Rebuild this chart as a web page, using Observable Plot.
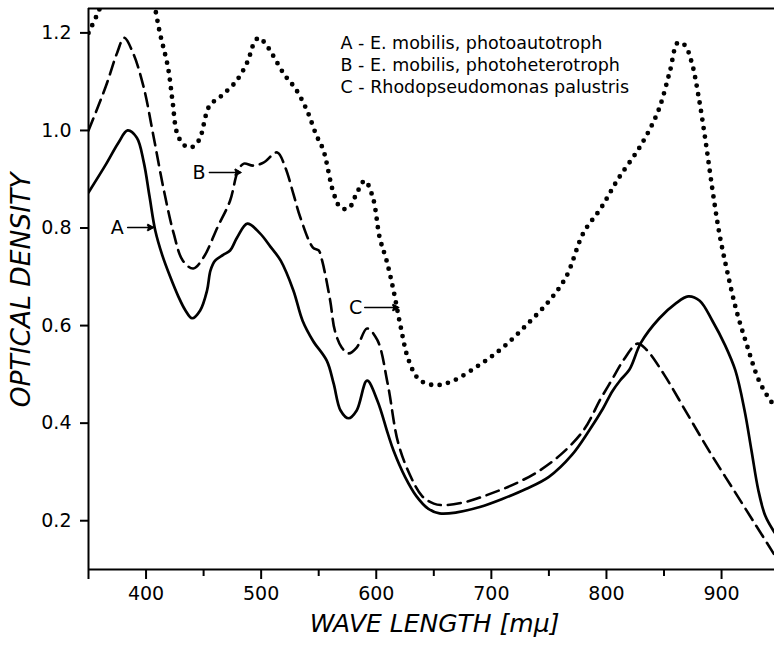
<!DOCTYPE html>
<html><head><meta charset="utf-8">
<script src="https://cdn.jsdelivr.net/npm/d3@7"></script>
<script src="https://cdn.jsdelivr.net/npm/@observablehq/plot@0.6"></script>
<style>body{margin:0;background:#fff} svg{display:block}</style>
</head><body><div id="chart"></div>
<script>
// Curve A – E. mobilis, photoautotroph (solid)
const waveA = [350,365,376,384,392,398,403,408,414,421,428,434,440,447,453,456,460,467,473,479,488,499,508,517,528,536,545,557,563,569,576,583,592,601,610,615,625,635,645,655,670,690,710,730,750,770,785,797,805,812,820,830,846,860,871,881,892,903,912,920,926,932,938,946];
const odA   = [0.873,0.93,0.975,1.0,0.985,0.935,0.865,0.795,0.745,0.70,0.66,0.632,0.615,0.631,0.672,0.713,0.733,0.745,0.754,0.78,0.809,0.789,0.762,0.733,0.672,0.61,0.569,0.528,0.481,0.426,0.41,0.426,0.487,0.446,0.379,0.344,0.29,0.25,0.225,0.215,0.217,0.228,0.245,0.265,0.29,0.335,0.385,0.43,0.465,0.488,0.51,0.565,0.615,0.645,0.66,0.651,0.61,0.56,0.508,0.426,0.344,0.262,0.21,0.176];
// Curve B – E. mobilis, photoheterotroph (dashed)
const waveB = [350,365,375,381,389,398,406,415,424,432,441,450,462,473,480,485,493,502,514,521,528,534,545,550,553,560,564,570,576,583,592,601,610,619,630,640,650,660,680,700,720,740,760,780,795,805,815,827,835,850,870,890,910,930,946];
const odB   = [1.0,1.09,1.16,1.19,1.157,1.088,0.994,0.883,0.789,0.733,0.717,0.74,0.801,0.856,0.918,0.932,0.928,0.934,0.955,0.924,0.87,0.822,0.76,0.754,0.733,0.651,0.59,0.555,0.543,0.555,0.594,0.57,0.48,0.36,0.29,0.25,0.235,0.232,0.24,0.256,0.275,0.30,0.335,0.385,0.45,0.49,0.53,0.563,0.55,0.50,0.42,0.34,0.265,0.19,0.13];
// Curve C – Rhodopseudomonas palustris (dotted)
const waveC = [350,358,365,380,395,405,412,419,423,427,433,439,446,455,465,478,488,494,498,503,510,520,530,540,548,554,563,569,576,583,590,597,603,609,615,621,628,637,650,665,690,710,730,750,765,780,795,810,830,845,855,862,868,874,880,886,892,898,905,913,922,932,940,946];
const odC   = [1.2,1.24,1.28,1.35,1.35,1.28,1.2,1.13,1.06,0.994,0.97,0.965,0.98,1.05,1.07,1.10,1.14,1.18,1.19,1.18,1.155,1.115,1.085,1.04,0.99,0.96,0.871,0.842,0.84,0.871,0.897,0.863,0.78,0.733,0.672,0.60,0.53,0.49,0.478,0.485,0.52,0.555,0.60,0.65,0.70,0.79,0.84,0.90,0.97,1.04,1.12,1.18,1.175,1.14,1.07,0.98,0.88,0.79,0.71,0.63,0.56,0.49,0.455,0.435];

const xMajorTicks = [400,500,600,700,800,900];
const xMinorTicks = [450,550,650,750,850];
const yTicks = [0.2,0.4,0.6,0.8,1.0,1.2];
const legendLines = ["A - E. mobilis, photoautotroph","B - E. mobilis, photoheterotroph","C - Rhodopseudomonas palustris"];
const curveLabels = ["A","B","C"];
const labelWave = [375,446,582];
const labelOD = [0.801,0.914,0.637];
const arrowFrom = [384,455,590];
const arrowTo = [406,482,619];

const toRows = (w, o) => w.map((x, i) => ({w: x, od: o[i]}));
const A = toRows(waveA, odA), B = toRows(waveB, odB), C = toRows(waveC, odC);
const labels = curveLabels.map((t, i) => ({t, w: labelWave[i], od: labelOD[i], w1: arrowFrom[i], w2: arrowTo[i]}));

const font = "DejaVu Sans";
const chart = Plot.plot({
  width: 774, height: 651,
  marginLeft: 88, marginRight: 0, marginTop: 8, marginBottom: 82,
  x: {domain: [350, 946]},
  y: {domain: [0.1, 1.25]},
  style: {fontFamily: font, color: "#000", background: "#fff"},
  marks: [
    Plot.axisX({ticks: xMajorTicks, tickSize: 10, tickPadding: 7, strokeWidth: 2, fontSize: 19, label: null, tickFormat: d => String(d)}),
    Plot.axisX({ticks: xMinorTicks, tickSize: 7, strokeWidth: 2, label: null, tickFormat: () => ""}),
    Plot.axisY({ticks: yTicks, tickSize: 8, tickPadding: 9, strokeWidth: 2, fontSize: 19, label: null, tickFormat: d => d.toFixed(1)}),
    Plot.ruleY([0.1], {strokeWidth: 2}),
    Plot.ruleY([1.25], {strokeWidth: 2}),
    Plot.ruleX([350], {strokeWidth: 2, insetBottom: -10}),
    Plot.line(A, {x: "w", y: "od", curve: "catmull-rom", strokeWidth: 2.7, clip: true}),
    Plot.line(B, {x: "w", y: "od", curve: "catmull-rom", strokeWidth: 2.6, strokeDasharray: "13,7", clip: true}),
    Plot.line(C, {x: "w", y: "od", curve: "catmull-rom", strokeWidth: 4.8, strokeDasharray: "0,8.6", strokeLinecap: "round", clip: true}),
    Plot.text(labels, {x: "w", y: "od", text: "t", fontSize: 19, textAnchor: "middle"}),
    Plot.arrow(labels, {x1: "w1", y1: "od", x2: "w2", y2: "od", strokeWidth: 1.5, headLength: 6, headAngle: 50}),
    Plot.dot(labels, {x: "w2", y: "od", symbol: "triangle", rotate: 90, r: 3, fill: "#000", dx: -3}),
    Plot.text([legendLines.join("\n")], {frameAnchor: "top-left", dx: 252, dy: 25, lineAnchor: "top", lineHeight: 1.25, fontSize: 17.5, textAnchor: "start"}),
    Plot.text(["WAVE LENGTH [mμ]"], {frameAnchor: "bottom", dx: 3, dy: 62, fontSize: 25, fontStyle: "italic", textAnchor: "middle"}),
    Plot.text(["OPTICAL DENSITY"], {frameAnchor: "left", dx: -67, dy: 1, rotate: -90, fontSize: 26.5, fontStyle: "italic", textAnchor: "middle"})
  ]
});
document.getElementById("chart").append(chart);
</script>
</body></html>
